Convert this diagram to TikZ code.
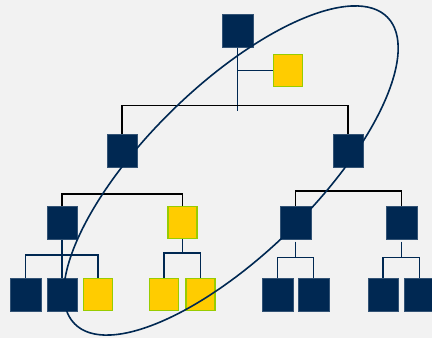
\documentclass[tikz,border=0pt]{standalone}
\definecolor{navy}{HTML}{002852}
\definecolor{gold}{HTML}{FFCC00}
\definecolor{lime}{HTML}{99CC00}
\definecolor{paper}{HTML}{F2F2F2}
\begin{document}
\begin{tikzpicture}[x=1pt,y=-1pt,
  member/.style={rectangle,fill=navy,draw=navy!80!white,line width=0.5pt,
    minimum width=30.5pt,minimum height=33.5pt,inner sep=0pt},
  staff/.style={rectangle,fill=gold,draw=lime,line width=1.5pt,
    minimum width=29pt,minimum height=32pt,inner sep=0pt},
  bus/.style={draw=black,line width=1.8pt},
  link/.style={draw=navy,line width=1.7pt},
  loop/.style={draw=navy,line width=1.6pt}]
\fill[paper] (0,0) rectangle (432,338);
\useasboundingbox (0,0) rectangle (432,338);

% top of the chart and its assistant
\node[member] (T) at (237.5,30.5) {};
\node[staff] (A) at (288,70.5) {};
% second level
\node[member] (L) at (122,150.5) {};
\node[member] (R) at (348,150.5) {};
% third level
\node[member] (LL) at (62,222.5) {};
\node[staff]  (LY) at (182.5,222.5) {};
\node[member] (RL) at (295.5,222.5) {};
\node[member] (RR) at (401.5,222.5) {};
% leaves
\node[member] (a) at (25.5,294.5) {};
\node[member] (b) at (62,294.5) {};
\node[staff]  (c) at (98,294.5) {};
\node[staff]  (d) at (164,294.5) {};
\node[staff]  (e) at (200.5,294.5) {};
\node[member] (f) at (277.5,294.5) {};
\node[member] (g) at (313.5,294.5) {};
\node[member] (h) at (383,294.5) {};
\node[member] (i) at (419.5,294.5) {};

% junction points
\coordinate (Tend) at (237.5,111);
\coordinate (Tbr)  at (237.5,70.5);
\coordinate (busT) at (0,105.5);
\coordinate (busL) at (0,194);
\coordinate (busR) at (0,191);
\coordinate (hLL)  at (0,255);
\coordinate (hLY)  at (0,253);
\coordinate (hR)   at (0,257.5);

% top stem and assistant branch
\draw[link] (T.south) -- (Tend);
\draw[link] (Tbr) -- (A.west);
% second level bus
\draw[bus] (L.north) -- (L.north |- busT) -- (R.north |- busT) -- (R.north);
% third level buses
\draw[bus] (LL.north) -- (LL.north |- busL) -- (LY.north |- busL) -- (LY.north);
\draw[bus] (RL.north) -- (RL.north |- busR) -- (RR.north |- busR) -- (RR.north);
% leaf groups
\draw[link] (LL.south) -- (b.north);
\draw[link] (a.north) -- (a.north |- hLL) -- (c.north |- hLL) -- (c.north);
\draw[link] (LY.south) -- (LY.south |- hLY);
\draw[link] (d.north) -- (d.north |- hLY) -- (e.north |- hLY) -- (e.north);
\draw[link] ([yshift=-2pt]RL.south) -- (RL.south |- hR);
\draw[link] (f.north) -- (f.north |- hR) -- (g.north |- hR) -- (g.north);
\draw[link] ([yshift=-2pt]RR.south) -- (RR.south |- hR);
\draw[link] (h.north) -- (h.north |- hR) -- (i.north |- hR) -- (i.north);

% tilted ring
\coordinate (E) at (231,170.5);
\draw[loop,rotate around={44.4:(E)}] (E) ellipse [x radius=219pt,y radius=84pt];
\end{tikzpicture}
\end{document}
